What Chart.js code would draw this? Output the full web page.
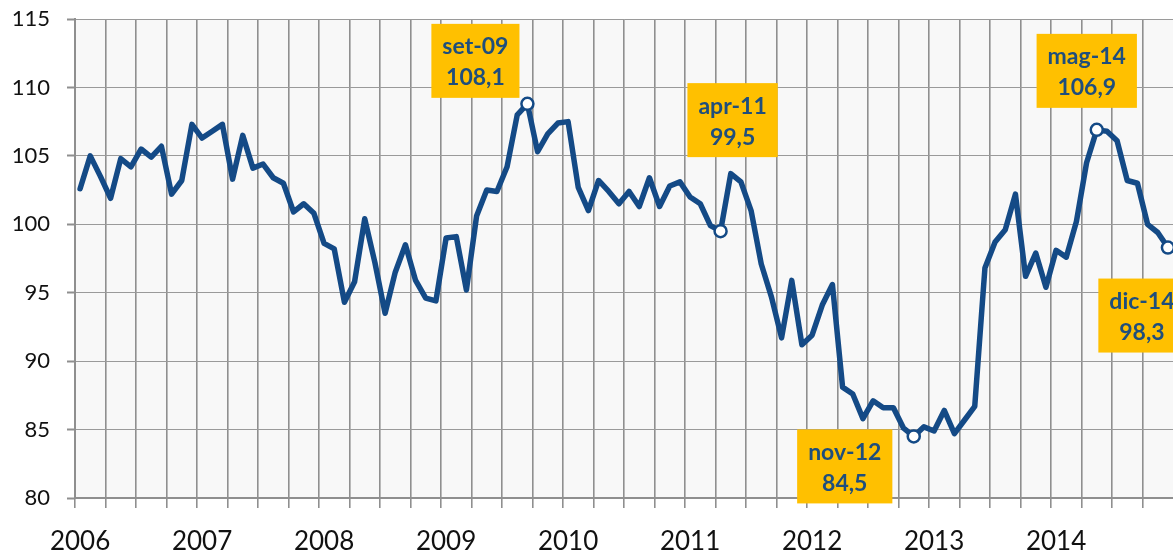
<!DOCTYPE html>
<html>
<head>
<meta charset="utf-8">
<script src="https://cdn.jsdelivr.net/npm/chart.js@4"></script>
<style>
  html, body { margin: 0; padding: 0; background: #fff; }
  #wrap { width: 1173px; height: 556px; position: relative; }
</style>
</head>
<body>
<div id="wrap"><canvas id="indexChart"></canvas></div>
<script>
// Years shown on the x axis (one category per month)
const years = ['2006', '2007', '2008', '2009', '2010', '2011', '2012', '2013', '2014'];

// Monthly index values, Jan 2006 - Dec 2014
const values = [
    102.6, 105.0, 103.5, 101.9, 104.8, 104.2, 105.5, 104.9, 105.7, 102.2, 103.2, 107.3,
    106.3, 106.8, 107.3, 103.3, 106.5, 104.1, 104.4, 103.4, 103.0, 100.9, 101.5, 100.8,
    98.6, 98.2, 94.3, 95.8, 100.4, 97.2, 93.5, 96.5, 98.5, 95.9, 94.6, 94.4,
    99.0, 99.1, 95.2, 100.6, 102.5, 102.4, 104.2, 108.0, 108.8, 105.3, 106.6, 107.4,
    107.5, 102.7, 101.0, 103.2, 102.4, 101.5, 102.4, 101.3, 103.4, 101.3, 102.8, 103.1,
    102.0, 101.5, 99.9, 99.5, 103.7, 103.1, 101.0, 97.1, 94.7, 91.7, 95.9, 91.2,
    91.9, 94.1, 95.6, 88.1, 87.6, 85.8, 87.1, 86.6, 86.6, 85.1, 84.5, 85.2,
    84.9, 86.4, 84.7, 85.7, 86.7, 96.8, 98.7, 99.6, 102.2, 96.2, 97.9, 95.4,
    98.1, 97.6, 100.2, 104.5, 106.9, 106.8, 106.1, 103.2, 103.0, 100.0, 99.4, 98.3
];

// Highlighted points and their callout texts
const calloutIndex = [44, 63, 82, 100, 107];
const calloutMonth = ['set-09', 'apr-11', 'nov-12', 'mag-14', 'dic-14'];
const calloutValue = ['108,1', '99,5', '84,5', '106,9', '98,3'];

const yTicks = [80, 85, 90, 95, 100, 105, 110, 115];

// build month categories
const labels = [];
years.forEach(y => {
    for (let m = 1; m <= 12; m++) labels.push(y + '-' + m);
});

const lineColor = '#144a86';
const pointRadii = values.map((v, i) => calloutIndex.includes(i) ? 6 : 0);

// plot area background
const plotBackground = {
    id: 'plotBackground',
    beforeDraw(chart) {
        const { ctx, chartArea } = chart;
        ctx.save();
        ctx.fillStyle = '#f8f8f8';
        ctx.fillRect(chartArea.left, chartArea.top, chartArea.right - chartArea.left, chartArea.bottom - chartArea.top);
        ctx.restore();
    }
};

// yellow callout boxes, placed relative to their points
const calloutBoxes = {
    id: 'calloutBoxes',
    afterDatasetsDraw(chart) {
        const { ctx, scales } = chart;
        const offsets = [[-52, -43], [12, -111], [-69, 30], [-10, -59], [-26, 68]];
        ctx.save();
        ctx.font = 'bold 23px Lato';
        ctx.textAlign = 'center';
        ctx.textBaseline = 'middle';
        calloutIndex.forEach((idx, k) => {
            const px = scales.x.getPixelForValue(idx);
            const py = scales.y.getPixelForValue(values[idx]);
            const cx = px + offsets[k][0];
            const cy = py + offsets[k][1];
            const w = Math.max(ctx.measureText(calloutMonth[k]).width, ctx.measureText(calloutValue[k]).width) + 22;
            const h = 74;
            ctx.fillStyle = '#ffc000';
            ctx.fillRect(cx - w / 2, cy - h / 2, w, h);
            ctx.fillStyle = '#1f4e7c';
            ctx.fillText(calloutMonth[k], cx, cy - 14);
            ctx.fillText(calloutValue[k], cx, cy + 17);
        });
        ctx.restore();
    }
};

const ctx = document.getElementById('indexChart').getContext('2d');
new Chart(ctx, {
    type: 'line',
    data: {
        labels: labels,
        datasets: [{
            data: values,
            borderColor: lineColor,
            borderWidth: 5.5,
            borderJoinStyle: 'round',
            borderCapStyle: 'round',
            tension: 0,
            pointRadius: pointRadii,
            pointHoverRadius: pointRadii,
            pointBackgroundColor: '#ffffff',
            pointBorderColor: lineColor,
            pointBorderWidth: 2.5
        }]
    },
    options: {
        responsive: true,
        maintainAspectRatio: false,
        animation: false,
        layout: { autoPadding: false, padding: { top: 19, right: 0, left: 0, bottom: 0 } },
        plugins: {
            legend: { display: false },
            tooltip: { enabled: false }
        },
        scales: {
            x: {
                offset: true,
                afterFit: scale => {
                    scale.height = 58;
                    scale.paddingLeft = 0;
                    scale.paddingRight = 0;
                },
                grid: {
                    offset: true,
                    color: c => (c.index % 3 === 0 ? '#8f8f8f' : 'rgba(0,0,0,0)'),
                    lineWidth: 1.6,
                    tickLength: 10,
                    drawOnChartArea: true
                },
                border: { color: '#8f8f8f', width: 2 },
                ticks: {
                    autoSkip: false,
                    maxRotation: 0,
                    minRotation: 0,
                    padding: 18,
                    color: '#111',
                    font: { family: 'Lato', size: 26 },
                    callback: function (val, i) {
                        return i % 12 === 0 ? years[i / 12] : '';
                    }
                }
            },
            y: {
                min: 80,
                max: 115,
                afterFit: scale => {
                    scale.width = 75;
                    scale.paddingTop = 0;
                    scale.paddingBottom = 0;
                },
                afterBuildTicks: scale => { scale.ticks = yTicks.map(v => ({ value: v })); },
                grid: {
                    color: '#9a9a9a',
                    lineWidth: 1,
                    borderDash: [2, 2],
                    tickBorderDash: [],
                    tickColor: '#8f8f8f',
                    tickWidth: 2,
                    tickLength: 8
                },
                border: { color: '#8f8f8f', width: 2 },
                ticks: {
                    padding: 17,
                    color: '#111',
                    font: { family: 'Lato', size: 22 }
                }
            }
        }
    },
    plugins: [plotBackground, calloutBoxes]
});
</script>
</body>
</html>
